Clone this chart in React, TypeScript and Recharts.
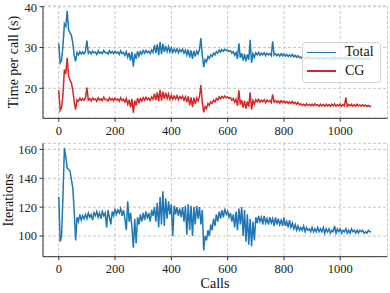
import React from 'react';
import { LineChart, Line, XAxis, YAxis, CartesianGrid } from 'recharts';

// one sample every 5 calls
const STEP = 5;

const totalTime = [
  31.0, 26.2, 26.8, 30.5, 35.8, 35.2, 39.0, 34.3, 33.6, 33.0, 31.0, 28.0, 26.6, 28.8, 28.2, 29.0, 28.4, 28.9, 28.5, 29.1,
  31.7, 28.6, 29.0, 28.4, 29.1, 28.7, 28.9, 28.3, 29.2, 28.6, 28.9, 28.5, 29.3, 28.7, 28.8, 28.4, 29.2, 28.6, 29.0, 28.5,
  29.1, 28.6, 28.9, 28.3, 29.2, 28.5, 28.8, 28.1, 29.0, 27.6, 28.7, 26.8, 28.9, 25.3, 28.5, 27.2, 29.1, 27.9, 29.0, 28.4,
  29.2, 28.6, 29.3, 28.7, 29.1, 28.5, 29.4, 28.8, 30.6, 28.6, 30.8, 28.1, 31.4, 28.4, 30.9, 28.9, 30.4, 29.0, 30.2, 28.9,
  29.9, 28.8, 29.6, 28.9, 29.7, 28.7, 29.5, 29.0, 29.6, 28.6, 29.4, 28.2, 29.5, 27.6, 29.3, 27.2, 29.2, 27.8, 29.1, 28.4,
  29.5, 32.3, 28.0, 25.2, 27.0, 26.5, 27.8, 27.3, 28.2, 27.8, 28.6, 28.2, 29.0, 28.6, 29.4, 28.9, 29.5, 29.1, 29.6, 29.2,
  29.4, 29.0, 29.2, 28.6, 29.0, 28.1, 28.8, 27.2, 31.0, 27.5, 28.6, 26.8, 28.4, 26.6, 28.3, 27.0, 31.9, 26.2, 28.5, 27.6,
  28.7, 28.2, 28.8, 28.1, 28.6, 28.2, 28.7, 28.0, 28.6, 28.2, 28.5, 28.0, 31.5, 28.1, 28.5, 28.0, 28.4, 27.9, 28.5, 28.0,
  28.4, 27.9, 28.3, 27.8, 28.2, 27.8, 28.3, 27.7, 28.1, 27.6, 28.0, 27.5, 27.7, 27.3, 27.6, 27.2, 27.7, 27.3, 27.6, 27.2,
  27.6, 27.2, 27.7, 27.3, 27.5, 27.1, 27.6, 27.2, 27.5, 27.1, 27.6, 27.2, 27.5, 27.1, 27.6, 27.2, 27.7, 27.1, 27.5, 27.2,
  27.6, 27.1, 27.5, 27.2, 27.8, 27.1, 27.5, 27.2, 27.6, 27.1, 27.5, 27.1, 27.6, 27.2, 27.4, 27.1, 27.5, 27.1, 27.4, 27.0,
  27.3, 27.0, 27.1,
];

const cgTime = [
  19.6, 14.6, 15.3, 18.5, 24.6, 23.5, 27.5, 23.0, 22.0, 21.3, 19.5, 16.6, 14.8, 17.2, 16.8, 17.6, 17.0, 17.5, 17.1, 17.7,
  20.2, 17.1, 17.5, 16.9, 17.6, 17.2, 17.4, 16.8, 17.7, 17.1, 17.4, 17.0, 17.8, 17.2, 17.3, 16.9, 17.7, 17.1, 17.5, 17.0,
  17.6, 17.1, 17.4, 16.8, 17.7, 17.0, 17.3, 16.6, 17.5, 16.1, 17.2, 15.3, 17.4, 14.0, 17.0, 15.8, 17.6, 16.5, 17.5, 16.9,
  17.7, 17.1, 17.8, 17.2, 17.6, 17.0, 17.9, 17.3, 18.7, 17.1, 19.0, 16.8, 19.6, 17.0, 19.2, 17.4, 18.9, 17.5, 18.6, 17.3,
  18.3, 17.3, 18.1, 17.4, 18.2, 17.2, 18.0, 17.5, 18.1, 17.1, 17.9, 16.6, 18.0, 15.8, 17.8, 15.4, 17.7, 16.2, 17.6, 16.9,
  18.0, 20.8, 16.5, 14.1, 15.5, 15.0, 16.3, 15.8, 16.7, 16.3, 17.1, 16.7, 17.5, 17.1, 17.9, 17.4, 18.0, 17.6, 18.1, 17.7,
  17.9, 17.5, 17.7, 17.1, 17.5, 16.6, 17.3, 15.7, 19.5, 16.0, 17.1, 15.3, 16.9, 15.0, 16.8, 15.5, 19.0, 14.8, 17.0, 16.1,
  17.2, 16.7, 17.3, 16.6, 17.1, 16.7, 17.2, 16.5, 17.1, 16.7, 17.0, 16.5, 18.5, 16.6, 17.0, 16.5, 16.9, 16.4, 17.0, 16.5,
  16.9, 16.4, 16.8, 16.3, 16.7, 16.3, 16.8, 16.2, 16.6, 16.1, 16.5, 16.0, 16.2, 15.8, 16.1, 15.7, 16.2, 15.8, 16.1, 15.7,
  16.1, 15.7, 16.2, 15.8, 16.0, 15.6, 16.1, 15.7, 16.0, 15.6, 16.1, 15.7, 16.0, 15.6, 16.1, 15.7, 16.2, 15.6, 16.0, 15.7,
  16.1, 15.6, 16.0, 15.7, 17.7, 15.6, 16.0, 15.7, 16.1, 15.6, 16.0, 15.6, 16.1, 15.7, 15.9, 15.6, 16.0, 15.6, 15.9, 15.5,
  15.8, 15.5, 15.7,
];

const iterations = [
  127, 96, 100, 128, 161, 155, 147, 146, 145, 139, 133, 117, 97, 113, 110, 115, 111, 114, 112, 115,
  112, 116, 113, 115, 111, 116, 114, 117, 113, 116, 112, 117, 114, 116, 106, 118, 113, 108, 117, 114,
  119, 115, 118, 116, 119, 114, 118, 112, 104, 124, 110, 116, 106, 92, 112, 95, 113, 108, 115, 110,
  116, 111, 117, 112, 116, 110, 118, 114, 120, 110, 123, 106, 127, 108, 131, 107, 126, 112, 124, 115,
  122, 100, 121, 115, 120, 114, 119, 113, 120, 110, 121, 101, 122, 104, 121, 100, 120, 108, 121, 112,
  120, 108, 118, 90, 100, 97, 104, 100, 108, 104, 112, 107, 115, 110, 117, 112, 118, 113, 119, 115,
  117, 113, 116, 110, 115, 106, 117, 104, 119, 108, 120, 100, 118, 96, 115, 94, 112, 93, 110, 97,
  113, 109, 114, 110, 113, 108, 114, 109, 112, 108, 113, 109, 112, 107, 113, 108, 112, 108, 111, 107,
  113, 107, 110, 106, 111, 106, 109, 105, 108, 104, 107, 104, 106, 104, 107, 103, 106, 104, 105, 103,
  106, 103, 105, 103, 106, 103, 105, 103, 106, 102, 105, 103, 105, 102, 104, 103, 107, 102, 105, 103,
  105, 102, 104, 103, 105, 102, 104, 102, 105, 103, 104, 102, 104, 102, 104, 103, 104, 102, 103, 102,
  104, 103, 103,
];

const xTicks = [0, 200, 400, 600, 800, 1000];
const timeTicks = [20, 30, 40];
const iterTicks = [100, 120, 140, 160];

const timeData = totalTime.map((t, i) => ({ call: i * STEP, total: t, cg: cgTime[i] }));
const iterData = iterations.map((v, i) => ({ call: i * STEP, iters: v }));

const FONT = '"Liberation Serif", "Times New Roman", serif';
const BLUE = '#1f77b4';
const RED = '#d62728';
const X_DOMAIN = [-56, 1168];
const LW = 1.5;
const tickStyle = { fill: '#222', fontSize: 12.5, fontFamily: FONT };

const Title = ({ px, py, txt, vertical }: any) => (
  <text
    x={px}
    y={py}
    textAnchor="middle"
    dominantBaseline="central"
    transform={vertical ? `rotate(-90 ${px} ${py})` : undefined}
    style={{ fontFamily: FONT, fontSize: 14, fill: '#111' }}
  >
    {txt}
  </text>
);

const App = () => {
  return (
    <div style={{ position: 'absolute', left: 0, top: 0, width: 390, height: 293, background: '#fff' }}>
      <div style={{ position: 'absolute', left: 0, top: 0 }}>
        <LineChart width={390} height={140} data={timeData} margin={{ top: 6, right: 2.5, bottom: 0, left: 0 }}>
          <CartesianGrid stroke="#c6c6c6" strokeDasharray="3 2" />
          <XAxis
            dataKey="call"
            type="number"
            domain={X_DOMAIN}
            ticks={xTicks}
            allowDataOverflow
            height={21.7}
            tickSize={3.5}
            tickMargin={4}
            stroke="#333"
            tick={tickStyle}
          />
          <XAxis xAxisId="top" orientation="top" dataKey="call" type="number" domain={X_DOMAIN} height={0} tick={false} tickLine={false} stroke="#999" strokeWidth={1.5} />
          <YAxis
            type="number"
            domain={[12.65, 40.17]}
            ticks={timeTicks}
            allowDataOverflow
            width={43}
            tickSize={3.5}
            tickMargin={2.5}
            stroke="#333"
            tick={tickStyle}
            label={<Title px={13.5} py={62} txt="Time per call (s)" vertical />}
          />
          <YAxis yAxisId="right" orientation="right" width={0} domain={[12.65, 40.17]} tick={false} tickLine={false} stroke="#999" strokeWidth={1.5} />
          <Line type="linear" dataKey="total" stroke={BLUE} strokeWidth={LW} dot={false} isAnimationActive={false} />
          <Line type="linear" dataKey="cg" stroke={RED} strokeWidth={LW} dot={false} isAnimationActive={false} />
        </LineChart>
      </div>

      <div style={{ position: 'absolute', left: 0, top: 137 }}>
        <LineChart width={390} height={156} data={iterData} margin={{ top: 6.3, right: 2.5, bottom: 0, left: 0 }}>
          <CartesianGrid stroke="#c6c6c6" strokeDasharray="3 2" />
          <XAxis
            dataKey="call"
            type="number"
            domain={X_DOMAIN}
            ticks={xTicks}
            allowDataOverflow
            height={36.3}
            tickSize={3.5}
            tickMargin={4}
            stroke="#333"
            tick={tickStyle}
            label={<Title px={215} py={146} txt="Calls" />}
          />
          <XAxis xAxisId="top" orientation="top" dataKey="call" type="number" domain={X_DOMAIN} height={0} tick={false} tickLine={false} stroke="#999" strokeWidth={1.5} />
          <YAxis
            type="number"
            domain={[85.7, 164.2]}
            ticks={iterTicks}
            allowDataOverflow
            width={43}
            tickSize={3.5}
            tickMargin={2.5}
            stroke="#333"
            tick={tickStyle}
            label={<Title px={8.5} py={63} txt="Iterations" vertical />}
          />
          <YAxis yAxisId="right" orientation="right" width={0} domain={[85.7, 164.2]} tick={false} tickLine={false} stroke="#999" strokeWidth={1.5} />
          <Line type="linear" dataKey="iters" stroke={BLUE} strokeWidth={LW} dot={false} isAnimationActive={false} />
        </LineChart>
      </div>

      {/* legend box, semi-transparent like matplotlib's */}
      <div
        style={{
          position: 'absolute',
          left: 301.5,
          top: 41.5,
          width: 79,
          height: 41.5,
          boxSizing: 'border-box',
          border: '1px solid #d4d4d4',
          borderRadius: 3,
          background: 'rgba(255,255,255,0.8)',
          fontFamily: FONT,
          fontSize: 14,
          color: '#111',
        }}
      >
        <div style={{ position: 'absolute', left: 4.5, top: 9.3, width: 28.5, height: 1.5, background: BLUE }} />
        <div style={{ position: 'absolute', left: 42.5, top: 1.5, lineHeight: '16px' }}>Total</div>
        <div style={{ position: 'absolute', left: 4.5, top: 27.8, width: 28.5, height: 1.5, background: RED }} />
        <div style={{ position: 'absolute', left: 42.5, top: 20.5, lineHeight: '16px' }}>CG</div>
      </div>
    </div>
  );
};

export default App;
